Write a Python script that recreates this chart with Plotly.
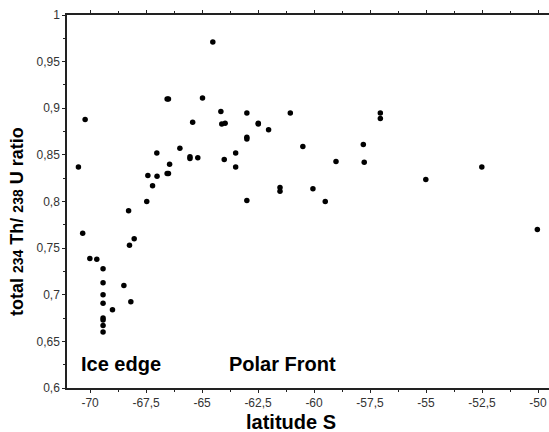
import plotly.graph_objects as go

# latitude (deg, negative = south) and total 234Th/238U ratio
latitude = [
    -70.52, -70.22, -70.33, -70.01, -69.70,
    -69.42, -69.42, -69.42, -69.42, -69.42, -69.42, -69.42, -69.42,
    -69.00, -68.49, -68.18, -68.24, -68.03, -68.28,
    -67.47, -67.42, -67.21, -67.01, -67.02,
    -66.56, -66.50, -66.45, -66.56, -66.50,
    -65.99, -65.54, -65.54, -65.19, -65.42, -64.98, -64.52,
    -64.16, -64.12, -63.97, -64.01,
    -63.00, -63.00, -63.00, -63.00, -63.50, -63.50,
    -62.49, -62.49, -62.03, -61.06, -61.52, -61.52,
    -60.50, -60.05, -59.50, -59.02,
    -57.80, -57.76, -57.04, -57.04,
    -55.01, -52.51, -50.03,
]
ratio = [
    0.837, 0.888, 0.766, 0.739, 0.738,
    0.728, 0.713, 0.700, 0.691, 0.675, 0.673, 0.667, 0.660,
    0.684, 0.710, 0.6925, 0.753, 0.760, 0.790,
    0.800, 0.828, 0.817, 0.827, 0.852,
    0.830, 0.830, 0.840, 0.910, 0.910,
    0.857, 0.848, 0.846, 0.847, 0.885, 0.911, 0.971,
    0.8966, 0.883, 0.884, 0.845,
    0.895, 0.869, 0.867, 0.801, 0.852, 0.837,
    0.884, 0.883, 0.877, 0.895, 0.815, 0.811,
    0.859, 0.8136, 0.800, 0.843,
    0.861, 0.842, 0.895, 0.889,
    0.8236, 0.837, 0.770,
]

x_tickvals = [-70, -67.5, -65, -62.5, -60, -57.5, -55, -52.5, -50]
x_ticktext = ["-70", "-67,5", "-65", "-62,5", "-60", "-57,5", "-55", "-52,5", "-50"]
y_tickvals = [0.6, 0.65, 0.7, 0.75, 0.8, 0.85, 0.9, 0.95, 1.0]
y_ticktext = ["0,6", "0,65", "0,7", "0,75", "0,8", "0,85", "0,9", "0,95", "1"]

W, H = 549, 432
ML, MR, MT, MB = 67, 0, 15, 44
PW, PH = W - ML - MR, H - MT - MB


def px(xp):
    return (xp - ML) / PW


def py(yp):
    return (H - MB - yp) / PH


fig = go.Figure()
fig.add_trace(go.Scatter(
    x=latitude, y=ratio, mode="markers",
    marker=dict(color="black", size=5.5),
    showlegend=False, cliponaxis=False,
))

axis_common = dict(
    showgrid=False, zeroline=False, showline=True, linecolor="#222",
    linewidth=1.5, ticks="outside", ticklen=3, tickwidth=1, tickcolor="#222",
    tickfont=dict(family="Liberation Sans, Arial, sans-serif", size=12, color="#333"),
)

fig.update_layout(
    width=W, height=H,
    margin=dict(l=ML, r=MR, t=MT, b=MB, autoexpand=False),
    paper_bgcolor="white", plot_bgcolor="white",
    xaxis=dict(
        range=[-71.03, -49.51], tickvals=x_tickvals, ticktext=x_ticktext,
        mirror="ticks",
        minor=dict(dtick=1.25, tick0=-70, ticks="outside", ticklen=2, tickcolor="#222"),
        **axis_common,
    ),
    yaxis=dict(
        range=[0.6, 1.0], tickvals=y_tickvals, ticktext=y_ticktext,
        mirror=False,
        minor=dict(dtick=0.025, tick0=0.6, ticks="outside", ticklen=2, tickcolor="#222"),
        **axis_common,
    ),
    font=dict(family="Liberation Sans, Arial, sans-serif", color="black"),
)

bold = dict(family="Liberation Sans, Arial, sans-serif", size=20, color="black")

annotations = [
    dict(text="<b>Ice edge</b>", x=px(121), y=py(364)),
    dict(text="<b>Polar Front</b>", x=px(282), y=py(364)),
    dict(text="<b>latitude S</b>", x=px(291), y=py(422)),
]
for a in annotations:
    fig.add_annotation(xref="paper", yref="paper", showarrow=False,
                       xanchor="center", yanchor="middle", font=bold, **a)

fig.add_annotation(
    xref="paper", yref="paper", showarrow=False,
    x=px(17), y=py(222), xanchor="center", yanchor="middle", textangle=-90,
    text="<b>total <span style='font-size:14px'>234</span> Th/ "
         "<span style='font-size:14px'>238</span> U ratio</b>",
    font=dict(family="Liberation Sans, Arial, sans-serif", size=18, color="black"),
)

fig.write_html(
    "out.html",
    config={"displayModeBar": False},
    post_script="document.body.style.margin='0';document.body.style.padding='0';",
)
